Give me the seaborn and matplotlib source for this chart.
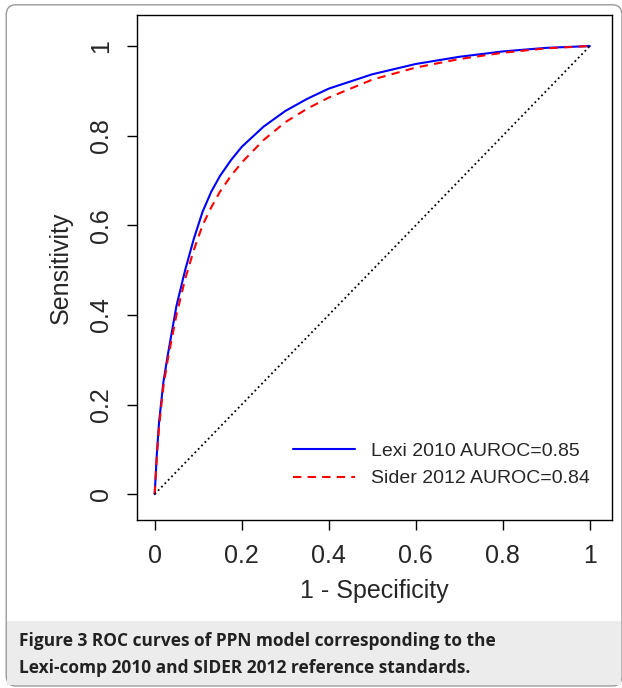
import matplotlib
matplotlib.use("Agg")
import matplotlib.pyplot as plt
from matplotlib.patches import FancyBboxPatch, Rectangle
import pandas as pd
import seaborn as sns

FPR = [0, 0.005, 0.01, 0.02, 0.03, 0.05, 0.07, 0.09, 0.11, 0.13, 0.15, 0.175, 0.2, 0.25,
       0.3, 0.35, 0.4, 0.5, 0.6, 0.7, 0.8, 0.9, 1]
TPR_LEXI = [0, 0.09, 0.16, 0.25, 0.31, 0.42, 0.50, 0.57, 0.63, 0.675, 0.71, 0.745, 0.775, 0.82,
            0.855, 0.882, 0.905, 0.937, 0.96, 0.976, 0.988, 0.996, 1]
TPR_SIDER = [0, 0.085, 0.15, 0.24, 0.30, 0.40, 0.48, 0.545, 0.60, 0.64, 0.675, 0.71, 0.74, 0.79,
             0.83, 0.86, 0.885, 0.925, 0.952, 0.971, 0.985, 0.995, 1]
TICKS = [0, 0.2, 0.4, 0.6, 0.8, 1]
TICK_LABELS = ["0", "0.2", "0.4", "0.6", "0.8", "1"]

sns.set_style("white")
plt.rcParams["font.family"] = ["Liberation Sans", "DejaVu Sans"]

fig = plt.figure(figsize=(6.22, 6.88), dpi=100)
fig.patches.append(FancyBboxPatch((0.01, 0.003), 0.99, 0.99, boxstyle="round,pad=0,rounding_size=0.015",
                                  transform=fig.transFigure, fill=False, edgecolor="#999999", lw=1))
fig.patches.append(Rectangle((0.011, 0.004), 0.988, 0.093, transform=fig.transFigure,
                             facecolor="#ececec", edgecolor="none"))

ax = fig.add_axes([0.22, 0.244, 0.764, 0.734])
df = pd.DataFrame({"fpr": FPR, "lexi": TPR_LEXI, "sider": TPR_SIDER})
sns.lineplot(data=df, x="fpr", y="lexi", ax=ax, color="blue", lw=1.5,
             label="Lexi 2010 AUROC=0.85")
sns.lineplot(data=df, x="fpr", y="sider", ax=ax, color="red", lw=1.5, ls=(0, (4, 3)),
             label="Sider 2012 AUROC=0.84")
ax.plot([0, 1], [0, 1], color="black", ls=":", lw=1.3)

ax.set_xlim(-0.041, 1.051)
ax.set_ylim(-0.058, 1.069)
ax.set_xticks(TICKS)
ax.set_xticklabels(TICK_LABELS, fontsize=18)
ax.set_yticks(TICKS)
ax.set_yticklabels(TICK_LABELS, fontsize=18, rotation=90, va="center")
ax.tick_params(axis="both", direction="out", length=7, width=1, color="black", pad=10, left=True, bottom=True)
for s in ax.spines.values():
    s.set_color("black")
    s.set_linewidth(1)
ax.set_xlabel("1 - Specificity", fontsize=18, labelpad=8)
ax.set_ylabel("Sensitivity", fontsize=18, labelpad=12)
ax.legend(loc="lower right", frameon=False, fontsize=14, handlelength=3.2,
          bbox_to_anchor=(0.99, 0.03))

fig.text(0.03, 0.069, "Figure 3 ROC curves of PPN model corresponding to the", va="center",
         fontsize=12.5, fontweight="bold", family=["Open Sans", "DejaVu Sans"], color="#222222")
fig.text(0.03, 0.029, "Lexi-comp 2010 and SIDER 2012 reference standards.", va="center",
         fontsize=12.5, fontweight="bold", family=["Open Sans", "DejaVu Sans"], color="#222222")

fig.savefig("out.png", dpi=100)
